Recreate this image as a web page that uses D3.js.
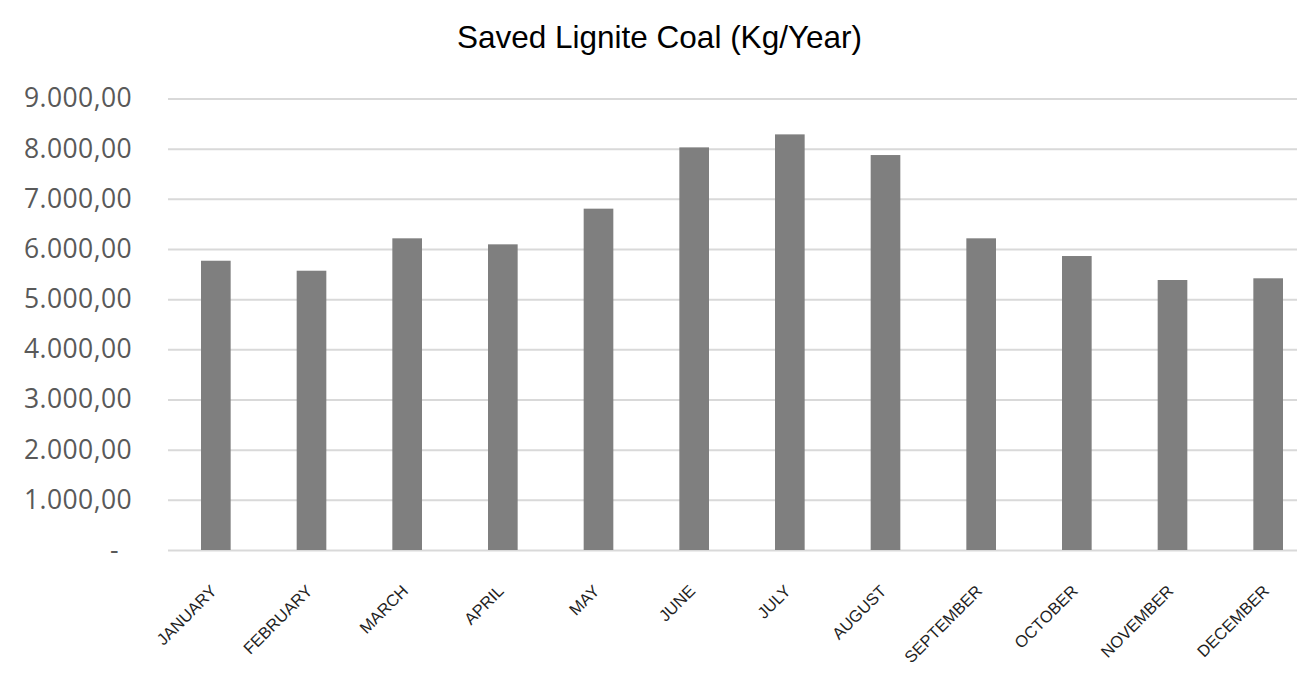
<!DOCTYPE html>
<html>
<head>
<meta charset="utf-8">
<script src="https://cdn.jsdelivr.net/npm/d3@7"></script>
<style>
  html, body { margin: 0; padding: 0; background: #fff; }
  svg { display: block; }
</style>
</head>
<body>
<svg id="chart" width="1297" height="683"></svg>
<script>
const months = ["JANUARY","FEBRUARY","MARCH","APRIL","MAY","JUNE","JULY","AUGUST","SEPTEMBER","OCTOBER","NOVEMBER","DECEMBER"];
const savedCoal = [5766, 5567, 6213, 6093, 6804, 8026, 8285, 7873, 6213, 5860, 5382, 5416];
const yTicks = [0, 1000, 2000, 3000, 4000, 5000, 6000, 7000, 8000, 9000];
const chartTitle = "Saved Lignite Coal (Kg/Year)";

(function () {
const svg = d3.select("#chart");
const W = 1297, H = 683;
const mLeft = 168, mRight = 1316, mTop = 98.5, mBottom = 550;

const x = d3.scaleBand().domain(months).range([mLeft, mRight]).paddingInner(0.69).paddingOuter(0.345);
const y = d3.scaleLinear().domain([0, 9000]).range([mBottom, mTop]);

const locale = d3.formatLocale({decimal: ",", thousands: ".", grouping: [3], currency: ["", ""]});
const fmtNum = locale.format(",.2f");
const fmt = v => v === 0 ? "-" : fmtNum(v);

// gridlines
const grid = svg.append("g").attr("class", "grid")
  .attr("transform", `translate(${mLeft},0)`)
  .call(d3.axisLeft(y).tickValues(yTicks).tickSize(-(W - mLeft)).tickFormat(""));
grid.select(".domain").remove();
grid.selectAll("line").attr("stroke", "#d9d9d9").attr("stroke-width", 2);

// y labels
const yAxis = svg.append("g")
  .attr("transform", `translate(132,0)`)
  .call(d3.axisLeft(y).tickValues(yTicks).tickSize(0).tickPadding(0).tickFormat(fmt));
yAxis.select(".domain").remove();
yAxis.selectAll("text")
  .attr("fill", "#595959")
  .attr("font-family", "'Open Sans', sans-serif")
  .attr("font-size", 26.5)
  .attr("letter-spacing", 0.4)
  .attr("dx", d => d === 0 ? -13 : 0);

// bars
svg.append("g").selectAll("rect").data(savedCoal).join("rect")
  .attr("x", (d, i) => x(months[i]))
  .attr("width", x.bandwidth())
  .attr("y", d => y(d))
  .attr("height", d => y(0) - y(d))
  .attr("fill", "#7f7f7f");

// x labels
const xAxis = svg.append("g")
  .attr("transform", `translate(0,${mBottom})`)
  .call(d3.axisBottom(x).tickSize(0).tickPadding(0));
xAxis.select(".domain").remove();
xAxis.selectAll("text")
  .attr("fill", "#1f1f1f")
  .attr("font-family", "'Liberation Sans', Arial, sans-serif")
  .attr("font-size", 16.5)
  .attr("text-anchor", "end")
  .attr("y", 0).attr("dy", 0)
  .attr("transform", "translate(2,42) rotate(-45)");

// title
svg.append("text")
  .attr("x", 659.5).attr("y", 48)
  .attr("text-anchor", "middle")
  .attr("font-family", "'Liberation Sans', Arial, sans-serif")
  .attr("font-size", 31.5)
  .attr("fill", "#000")
  .text(chartTitle);
})();
</script>
</body>
</html>
